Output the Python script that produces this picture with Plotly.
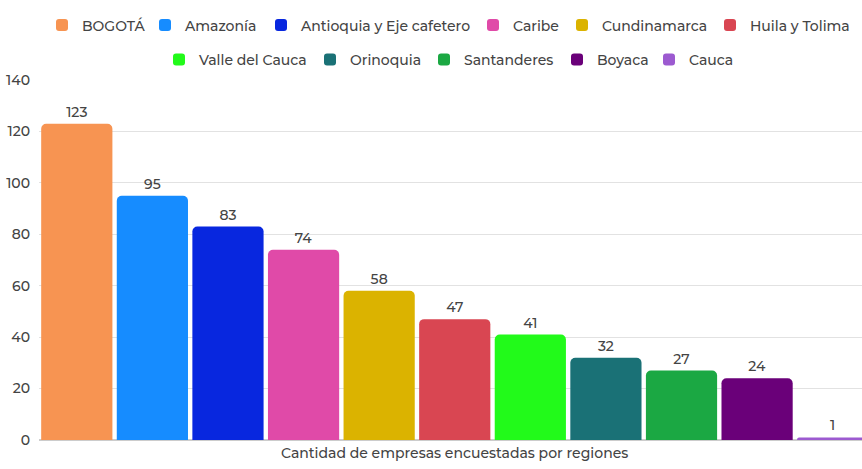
import plotly.graph_objects as go

regions = ["BOGOTÁ", "Amazonía", "Antioquia y Eje cafetero", "Caribe", "Cundinamarca",
           "Huila y Tolima", "Valle del Cauca", "Orinoquia", "Santanderes", "Boyaca", "Cauca"]
values = [123, 95, 83, 74, 58, 47, 41, 32, 27, 24, 1]
colors = ["#F79452", "#168CFF", "#0827DF", "#E04AA8", "#DBB300", "#D94652",
          "#22FA1A", "#1A7176", "#1BA843", "#6A0079", "#9C5AD0"]
category = ["Cantidad de empresas encuestadas por regiones"]
y_ticks = [0, 20, 40, 60, 80, 100, 120, 140]

legend_swatch_x = [56, 159, 275, 487, 576, 724, 173, 324, 438, 571, 663]
legend_row_y = [25.5, 25.5, 25.5, 25.5, 25.5, 25.5, 60, 60, 60, 60, 60]

W, H = 862, 469
FONT = "Montserrat, 'Open Sans', sans-serif"
TXT = "#444444"

fig = go.Figure()
legend_layouts = {}
for i, (name, val, col) in enumerate(zip(regions, values, colors)):
    lname = "legend" if i == 0 else f"legend{i + 1}"
    fig.add_trace(go.Bar(
        x=category, y=[val], name=name,
        marker=dict(color=col, line=dict(width=0)),
        text=[val], texttemplate="%{y}", textposition="outside",
        textfont=dict(size=14, color=TXT, family=FONT, weight=500),
        cliponaxis=False, showlegend=True,
        legend=lname,
    ))
    legend_layouts[lname] = dict(
        xref="container", yref="container",
        x=(legend_swatch_x[i] - 14) / W, xanchor="left",
        y=1 - legend_row_y[i] / H, yanchor="middle",
        orientation="h", bgcolor="rgba(0,0,0,0)", borderwidth=0, visible=True,
        font=dict(size=14, color=TXT, family=FONT, weight=500), itemclick=False,
    )

fig.update_layout(
    width=W, height=H, showlegend=True,
    margin=dict(l=39, r=0, t=80, b=29, autoexpand=False),
    paper_bgcolor="white", plot_bgcolor="white",
    font=dict(family=FONT, size=14, color=TXT),
    barmode="group", bargap=0, bargroupgap=0.058,
    barcornerradius=5,
    xaxis=dict(range=[-0.5, 0.4898], showticklabels=False, showgrid=False,
               showline=False, zeroline=False, fixedrange=True, automargin=False),
    yaxis=dict(range=[0, 140], tickvals=y_ticks, showgrid=True, gridcolor="#E2E2E2",
               gridwidth=1, zeroline=True, zerolinecolor="#CCCCCC", zerolinewidth=1.5,
               ticklabelstandoff=8, automargin=False,
               tickfont=dict(size=14, color=TXT, family=FONT, weight=500),
               fixedrange=True),
    annotations=[dict(x=0, y=0, xref="x", yref="y", yshift=-13, yanchor="middle",
                      text=category[0], showarrow=False,
                      font=dict(size=14, color=TXT, family=FONT, weight=500))],
    **legend_layouts,
)

fig.write_html("out.html",
               config={"displayModeBar": False},
               post_script="document.body.style.margin='0';document.body.style.overflow='hidden';")
